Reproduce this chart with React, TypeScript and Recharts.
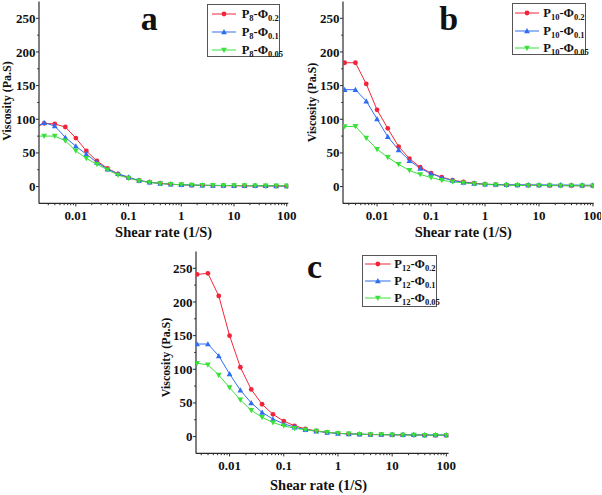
import { LineChart, Line, XAxis, YAxis, Legend, Customized } from 'recharts'

const SERIF = "'Liberation Serif', 'Times New Roman', Times, serif"
const AXIS_COLOR = '#2a2a2a'
const COLORS = ['#f2243a', '#2f6ef2', '#3be03b']
const MARKERS = ['circle', 'up', 'down']
const PHI = ['0.2', '0.1', '0.05']

// shear rate (1/S)
const SHEAR_RATE_A = [0.00158, 0.00251, 0.00398, 0.00631, 0.01, 0.0158, 0.0251, 0.0398, 0.0631, 0.1, 0.158, 0.251, 0.398, 0.631, 1, 1.58, 2.51, 3.98, 6.31, 10, 15.8, 25.1, 39.8, 63.1, 100]
const SHEAR_RATE = [0.00251, 0.00398, 0.00631, 0.01, 0.0158, 0.0251, 0.0398, 0.0631, 0.1, 0.158, 0.251, 0.398, 0.631, 1, 1.58, 2.51, 3.98, 6.31, 10, 15.8, 25.1, 39.8, 63.1, 100]

// viscosity (Pa.S)
const P8_PHI02 = [86, 94, 93, 88.5, 72, 53, 38, 27, 19, 13, 9, 6.4, 5, 3.5, 2.5, 2, 1.8, 1.5, 1.3, 1.2, 1, 1, 0.8, 0.8, 0.7]
const P8_PHI01 = [87, 95, 90, 73, 60, 48, 36, 26, 19, 14, 9, 6.5, 4.5, 3.5, 2.8, 2.3, 2, 1.8, 1.6, 1.5, 1.4, 1.3, 1.2, 1.1, 1]
const P8_PHI005 = [75, 75, 75, 68, 53, 42, 33, 25, 17, 12.5, 8.5, 6, 4.5, 3.5, 2.8, 2.2, 2, 1.8, 1.6, 1.5, 1.4, 1.3, 1.2, 1.1, 1]

const P10_PHI02 = [184, 184, 152.5, 114, 86.5, 59.5, 41.5, 28.7, 19.8, 14, 9.4, 7, 5, 3.5, 3, 2.5, 2.2, 2, 1.8, 1.6, 1.5, 1.4, 1.3, 1.2]
const P10_PHI01 = [144, 144, 127, 100.5, 74, 54.5, 38.6, 27, 19.3, 13.4, 9, 6, 4.5, 3.5, 3, 2.8, 2.6, 2.5, 2.6, 2.5, 2.4, 2.3, 2.1, 2]
const P10_PHI005 = [89, 89.5, 72, 55.4, 43.5, 33, 24, 18, 13.4, 9.4, 7, 5.4, 4, 3, 2.5, 2, 1.8, 1.6, 1.5, 1.4, 1.3, 1.2, 1.1, 1]

const P12_PHI02 = [241, 242.5, 209, 150, 103, 70, 48, 33, 23, 16, 11.4, 8.4, 6.4, 5, 4, 3.5, 3, 2.8, 2.5, 2.4, 2.2, 2, 2, 2]
const P12_PHI01 = [137.5, 137.5, 120, 93, 69, 50, 36, 26, 19, 14, 10.4, 8, 6, 4.5, 4, 3.6, 3.2, 3, 3, 2.8, 2.7, 2.6, 2.5, 2.5]
const P12_PHI005 = [109, 106.5, 91.5, 72.8, 54.5, 39, 28.7, 20.8, 15.8, 12.4, 10, 8, 6.4, 5, 4, 3.5, 3, 2.8, 2.5, 2.3, 2.2, 2, 2, 2]

// axis ticks
const MAJOR_X = [0.01, 0.1, 1, 10, 100]
const DECADES = [0.001, 0.01, 0.1, 1, 10]
const MINOR_STEPS = [2, 3, 4, 5, 6, 7, 8, 9]
const Y_TICKS = [0, 25, 50, 75, 100, 125, 150, 175, 200, 225, 250]
const Y_DOMAIN: [number, number] = [-25, 275]

const Y_AXIS_W = 39
const X_AXIS_H = 30
const PLOT_H = 201.9

const isMajor = (v: number) => Math.abs(Math.log10(v) - Math.round(Math.log10(v))) < 1e-6

function Marker({ cx, cy, kind, color }: any) {
  if (cx == null || cy == null) return null
  if (kind === 'circle') return <circle cx={cx} cy={cy} r={2.4} fill={color} />
  const s = 2.9
  const pts =
    kind === 'up'
      ? `${cx},${cy - s} ${cx + s},${cy + s * 0.8} ${cx - s},${cy + s * 0.8}`
      : `${cx},${cy + s} ${cx + s},${cy - s * 0.8} ${cx - s},${cy - s * 0.8}`
  return <polygon points={pts} fill={color} />
}

function XTick({ x, y, payload }: any) {
  const v = payload.value
  const major = isMajor(v)
  return (
    <g>
      <line x1={x} x2={x} y1={y} y2={y + (major ? 3 : 1.8)} stroke={AXIS_COLOR} />
      {major && (
        <text x={x} y={y + 16.5} textAnchor="middle" fontFamily={SERIF} fontWeight="bold" fontSize={13} fill="#111">
          {String(v)}
        </text>
      )}
    </g>
  )
}

function YTick({ x, y, payload }: any) {
  const v = payload.value
  const major = v % 50 === 0
  return (
    <g>
      <line x1={x} x2={x - (major ? 3 : 1.8)} y1={y} y2={y} stroke={AXIS_COLOR} />
      {major && (
        <text x={x - 3.6} y={y} dy="0.35em" textAnchor="end" fontFamily={SERIF} fontWeight="bold" fontSize={13} fill="#111">
          {v}
        </text>
      )}
    </g>
  )
}

const SUB: any = { fontSize: 8.5, position: 'relative', top: 3 }

function LegendBox({ pSub, cfg }: any) {
  const [l0, l1] = cfg.lineX
  return (
    <div
      style={{
        position: 'relative', width: cfg.width, height: cfg.height, boxSizing: 'border-box',
        border: '1px solid #555', background: '#fff', fontFamily: SERIF, fontWeight: 700,
        fontSize: 12.5, color: '#111',
      }}
    >
      {PHI.map((phi, i) => (
        <div key={phi} style={{ position: 'absolute', left: 0, top: cfg.row0 + i * cfg.gap - 9, height: 16, width: '100%' }}>
          <svg width={cfg.textX} height={16} style={{ position: 'absolute', left: 0, top: 0 }}>
            <line x1={l0} x2={l1} y1={8} y2={8} stroke={COLORS[i]} strokeWidth={1} />
            <Marker cx={(l0 + l1) / 2} cy={8} kind={MARKERS[i]} color={COLORS[i]} />
          </svg>
          <span style={{ position: 'absolute', left: cfg.textX, top: 0, lineHeight: '16px', whiteSpace: 'nowrap' }}>
            P<span style={SUB}>{pSub}</span>-Φ<span style={SUB}>{phi}</span>
          </span>
        </div>
      ))}
    </div>
  )
}

function Panel(p: any) {
  const data = p.x.map((x: number, i: number) => ({ x, s0: p.series[0][i], s1: p.series[1][i], s2: p.series[2][i] }))
  const ticks = [...MAJOR_X, ...DECADES.flatMap((d) => MINOR_STEPS.map((m) => m * d))].filter(
    (v) => v > p.xDomain[0] * 1.001 && v < p.xDomain[1]
  )
  const plotTop = p.plotTop
  const marginBottom = p.height - plotTop - PLOT_H - X_AXIS_H
  const plotW = p.width - Y_AXIS_W - p.right
  const plotBottom = plotTop + PLOT_H
  const cx = Y_AXIS_W + plotW / 2
  const cy = plotTop + PLOT_H / 2

  const Texts = () => (
    <g fontFamily={SERIF} fontWeight="bold" fill="#111">
      <text x={p.letterPos[0]} y={p.letterPos[1]} textAnchor="middle" fontSize={34}>
        {p.letter}
      </text>
      <text x={cx + p.xTitle.dx} y={plotBottom + p.xTitle.dy} textAnchor="middle" fontSize={14.5}>
        Shear rate (1/S)
      </text>
      <text
        x={p.yTitle.x}
        y={cy + p.yTitle.dy}
        transform={`rotate(-90 ${p.yTitle.x} ${cy + p.yTitle.dy})`}
        textAnchor="middle"
        fontSize={12}
      >
        Viscosity (Pa.S)
      </text>
    </g>
  )

  return (
    <div style={{ position: 'absolute', left: p.left, top: p.top }}>
      <LineChart
        width={p.width}
        height={p.height}
        data={data}
        margin={{ top: plotTop, right: p.right, left: 0, bottom: marginBottom }}
      >
        <XAxis
          dataKey="x"
          type="number"
          scale="log"
          domain={p.xDomain}
          allowDataOverflow
          ticks={ticks}
          interval={0}
          tickSize={0}
          tickMargin={0}
          height={X_AXIS_H}
          tick={(t: any) => <XTick {...t} />}
          axisLine={{ stroke: AXIS_COLOR, strokeWidth: 1.2 }}
        />
        <XAxis
          xAxisId="top"
          orientation="top"
          type="number"
          scale="log"
          domain={p.xDomain}
          allowDataOverflow
          height={0}
          tick={false}
          tickLine={false}
          axisLine={{ stroke: AXIS_COLOR, strokeWidth: 1.2 }}
        />
        <YAxis
          type="number"
          domain={Y_DOMAIN}
          allowDataOverflow
          ticks={Y_TICKS}
          interval={0}
          tickSize={0}
          tickMargin={0}
          width={Y_AXIS_W}
          tick={(t: any) => <YTick {...t} />}
          axisLine={{ stroke: AXIS_COLOR, strokeWidth: 1.2 }}
        />
        <YAxis
          yAxisId="right"
          orientation="right"
          type="number"
          domain={Y_DOMAIN}
          allowDataOverflow
          width={0}
          tick={false}
          tickLine={false}
          axisLine={{ stroke: AXIS_COLOR, strokeWidth: 1.2 }}
        />
        {['s0', 's1', 's2'].map((key, i) => (
          <Line
            key={key}
            dataKey={key}
            type="linear"
            stroke={COLORS[i]}
            strokeWidth={1}
            isAnimationActive={false}
            dot={(d: any) => <Marker key={`${key}-${d.index}`} cx={d.cx} cy={d.cy} kind={MARKERS[i]} color={COLORS[i]} />}
            activeDot={false}
          />
        ))}
        <Legend
          layout="vertical"
          align="center"
          verticalAlign="middle"
          wrapperStyle={{ left: p.legend.left, top: p.legend.top, width: p.legend.width, height: p.legend.height }}
          content={() => <LegendBox pSub={p.pSub} cfg={p.legend} />}
        />
        <Customized component={Texts} />
      </LineChart>
    </div>
  )
}

export default function App() {
  return (
    <div style={{ position: 'absolute', left: 0, top: 0, width: 602, height: 495, overflow: 'hidden', background: '#fff' }}>
      <Panel
        letter="a"
        pSub="8"
        x={SHEAR_RATE_A}
        series={[P8_PHI02, P8_PHI01, P8_PHI005]}
        left={0}
        top={0}
        width={300.3}
        height={245}
        plotTop={1.5}
        right={12}
        xDomain={[0.002, 107]}
        letterPos={[149.2, 30]}
        xTitle={{ dx: 0, dy: 33.2 }}
        yTitle={{ x: 11, dy: -1.4 }}
        legend={{ left: 206.7, top: 4, width: 73, height: 53, row0: 10.3, gap: 17.8, lineX: [4, 28], textX: 34 }}
      />
      <Panel
        letter="b"
        pSub="10"
        x={SHEAR_RATE}
        series={[P10_PHI02, P10_PHI01, P10_PHI005]}
        left={303.7}
        top={0}
        width={297.6}
        height={245}
        plotTop={1.5}
        right={8}
        xDomain={[0.00234, 102.6]}
        letterPos={[144.6, 30]}
        xTitle={{ dx: -5, dy: 33.2 }}
        yTitle={{ x: 12.3, dy: 0 }}
        legend={{ left: 208.6, top: 3.3, width: 73.7, height: 51.7, row0: 10, gap: 17.3, lineX: [2, 26], textX: 30 }}
      />
      <Panel
        letter="c"
        pSub="12"
        x={SHEAR_RATE}
        series={[P12_PHI02, P12_PHI01, P12_PHI005]}
        left={156.7}
        top={244}
        width={303.6}
        height={251}
        plotTop={7.5}
        right={12}
        xDomain={[0.0024, 110]}
        letterPos={[157.5, 34.3]}
        xTitle={{ dx: -3.7, dy: 37 }}
        yTitle={{ x: 12.8, dy: 5 }}
        legend={{ left: 205.6, top: 11, width: 74.4, height: 52.3, row0: 9, gap: 17.2, lineX: [2, 27.7], textX: 31 }}
      />
    </div>
  )
}
